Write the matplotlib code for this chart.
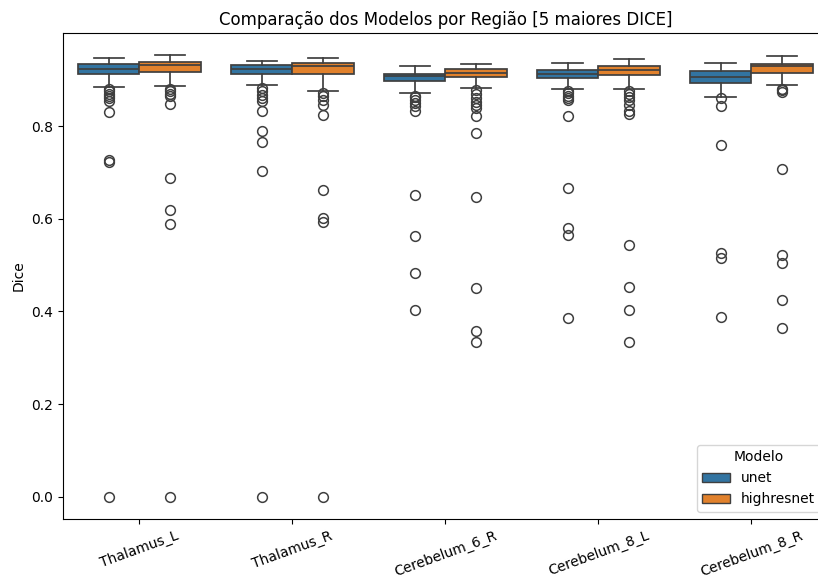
import matplotlib
matplotlib.use("Agg")

import matplotlib.pyplot as plt
from matplotlib.patches import Patch

regioes = ["Thalamus_L", "Thalamus_R", "Cerebelum_6_R", "Cerebelum_8_L", "Cerebelum_8_R"]
modelos = ["unet", "highresnet"]

# unet box stats per region
unet_whislo = [0.884, 0.889, 0.872, 0.880, 0.862]
unet_q1 = [0.912, 0.912, 0.897, 0.903, 0.894]
unet_med = [0.923, 0.923, 0.908, 0.913, 0.907]
unet_q3 = [0.934, 0.932, 0.912, 0.921, 0.919]
unet_whishi = [0.947, 0.941, 0.929, 0.936, 0.937]
unet_fliers = [
    [0.880, 0.875, 0.870, 0.865, 0.860, 0.855, 0.830, 0.726, 0.722, 0.0],
    [0.882, 0.875, 0.868, 0.860, 0.855, 0.832, 0.790, 0.766, 0.703, 0.0],
    [0.866, 0.862, 0.857, 0.850, 0.843, 0.832, 0.651, 0.562, 0.482, 0.402],
    [0.876, 0.871, 0.866, 0.861, 0.856, 0.822, 0.667, 0.580, 0.565, 0.385],
    [0.860, 0.844, 0.759, 0.527, 0.515, 0.388],
]

# highresnet box stats per region
hrn_whislo = [0.886, 0.876, 0.883, 0.880, 0.889]
hrn_q1 = [0.917, 0.912, 0.907, 0.911, 0.914]
hrn_med = [0.931, 0.930, 0.914, 0.920, 0.930]
hrn_q3 = [0.938, 0.936, 0.923, 0.930, 0.935]
hrn_whishi = [0.953, 0.948, 0.933, 0.945, 0.952]
hrn_fliers = [
    [0.880, 0.876, 0.870, 0.864, 0.848, 0.687, 0.618, 0.588, 0.0],
    [0.872, 0.865, 0.856, 0.846, 0.824, 0.662, 0.601, 0.592, 0.0],
    [0.878, 0.870, 0.861, 0.852, 0.845, 0.838, 0.822, 0.786, 0.648, 0.450, 0.357, 0.335],
    [0.875, 0.869, 0.863, 0.857, 0.845, 0.832, 0.826, 0.543, 0.452, 0.403, 0.335],
    [0.880, 0.877, 0.874, 0.707, 0.521, 0.505, 0.425, 0.365],
]

cores = ["#3274a1", "#e1812c"]
cinza = "#3f3f3f"


def monta_stats(wlo, q1, med, q3, whi, fl):
    stats = []
    for i in range(len(wlo)):
        stats.append({
            "whislo": wlo[i], "q1": q1[i], "med": med[i],
            "q3": q3[i], "whishi": whi[i], "fliers": fl[i],
        })
    return stats


fig = plt.figure(figsize=(8.18, 5.81), dpi=100)
ax = fig.add_axes([0.077, 0.107, 0.935, 0.836])

todos = [
    monta_stats(unet_whislo, unet_q1, unet_med, unet_q3, unet_whishi, unet_fliers),
    monta_stats(hrn_whislo, hrn_q1, hrn_med, hrn_q3, hrn_whishi, hrn_fliers),
]
offsets = [-0.2, 0.2]

for k, stats in enumerate(todos):
    pos = [i + offsets[k] for i in range(len(regioes))]
    ax.bxp(
        stats,
        positions=pos,
        widths=0.4,
        capwidths=0.2,
        patch_artist=True,
        manage_ticks=False,
        boxprops=dict(facecolor=cores[k], edgecolor=cinza, linewidth=1.25),
        medianprops=dict(color=cinza, linewidth=1.25),
        whiskerprops=dict(color=cinza, linewidth=1.25),
        capprops=dict(color=cinza, linewidth=1.25),
        flierprops=dict(marker="o", markerfacecolor="none", markeredgecolor=cinza,
                        markersize=7, markeredgewidth=1.1, linestyle="none"),
    )

ax.set_xlim(-0.5, len(regioes) - 0.5)
ax.set_xticks(range(len(regioes)))
ax.set_xticklabels(regioes, rotation=20)
ax.set_yticks([0.0, 0.2, 0.4, 0.6, 0.8])
ax.set_ylabel("Dice")
ax.set_title("Comparação dos Modelos por Região [5 maiores DICE]")

handles = [Patch(facecolor=cores[i], edgecolor=cinza, label=modelos[i]) for i in range(2)]
ax.legend(handles=handles, title="Modelo", loc="lower right")

fig.savefig("out.png", dpi=100)
